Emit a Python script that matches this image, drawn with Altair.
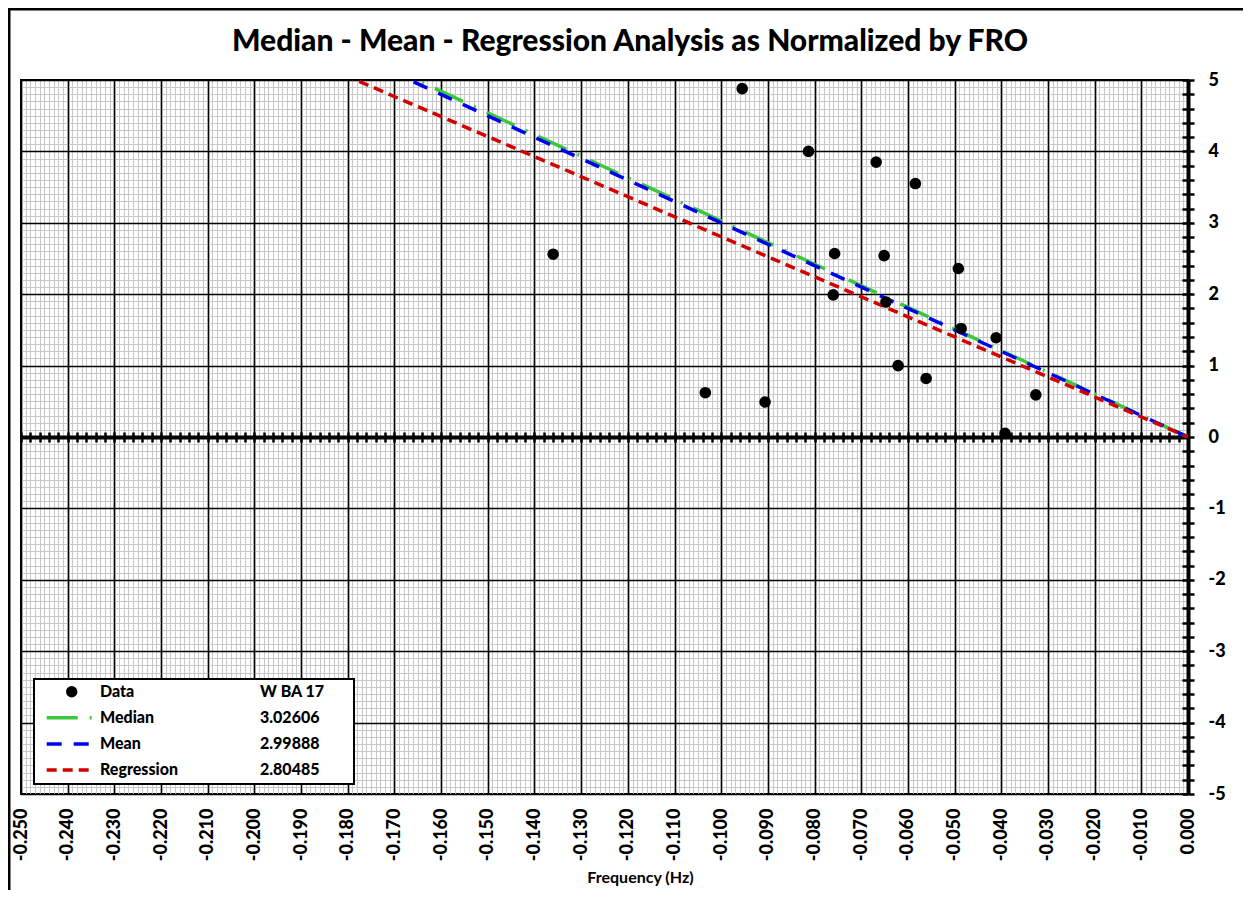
import altair as alt
import pandas as pd

# ---------------- data ----------------
freq = [-0.1360, -0.1034, -0.0955, -0.0906, -0.0813, -0.0760, -0.0757, -0.0668, -0.0651,
        -0.0647, -0.0621, -0.0584, -0.0561, -0.0492, -0.0486, -0.0411, -0.0392, -0.0326]
resp = [2.56, 0.62, 4.88, 0.49, 4.00, 1.99, 2.57, 3.85, 2.54,
        1.89, 1.00, 3.55, 0.82, 2.36, 1.52, 1.39, 0.05, 0.59]

series_names = ["Median", "Mean", "Regression"]
series_values = [3.02606, 2.99888, 2.80485]
series_colors = ["#3cc83c", "#0000f0", "#d40000"]
series_dash = [[31, 12, 2, 12], [15, 12], [10, 6]]

legend_labels = ["Data", "Median", "Mean", "Regression"]
legend_values = ["W BA 17", "3.02606", "2.99888", "2.80485"]

x_range = [-0.25, 0.0]
x_major = [-i / 100 for i in range(25, -1, -1)]
x_minor = [-k / 1000 for k in range(250) if k % 10 != 0]
x_zero_ticks = [-k / 500 for k in range(126)]
y_major = list(range(-5, 6))
y_minor = [k / 10 for k in range(-50, 51) if k % 10 != 0]
y_edge_ticks = [k / 5 for k in range(-25, 26)]

title_text = "Median - Mean - Regression Analysis as Normalized by FRO"
x_title = "Frequency (Hz)"

# ---------------- layout ----------------
W, H = 1167, 714
FONT = "Lato"
LBL_W = 900
PERIOD = W / 25  # pixel spacing of major vertical grid lines

pts = pd.DataFrame({"freq": freq, "resp": resp})
xs = alt.Scale(domain=x_range, nice=False, zero=False)
ys = alt.Scale(domain=[-5, 5], nice=False, zero=False)

blank = dict(labels=False, ticks=False, domain=False, title=None, zindex=0)


def axis_layer(xaxis, yaxis):
    return alt.Chart(pts).mark_point(opacity=0).encode(
        x=alt.X("freq:Q", scale=xs, axis=xaxis),
        y=alt.Y("resp:Q", scale=ys, axis=yaxis),
    )


minor = axis_layer(
    alt.Axis(orient="top", values=x_minor, grid=True, gridColor="#c8c8c8", gridWidth=1.1, **blank),
    alt.Axis(orient="left", values=y_minor, grid=True, gridColor="#c8c8c8", gridWidth=1.1,
             gridDash=[PERIOD - 2, 2], gridDashOffset=PERIOD - 1, **blank),
)

major = axis_layer(
    alt.Axis(orient="bottom", values=x_major, grid=True, gridColor="#000000", gridWidth=1.7,
             ticks=False, domain=False, labels=True, labelAngle=270,
             labelExpr="replace(format(datum.value, '.3f'), '\u2212', '-')",
             labelFont=FONT, labelFontSize=18, labelFontWeight=LBL_W, labelColor="#000000",
             labelPadding=14, labelFlush=False, labelOverlap=False,
             title=x_title, titleFont=FONT, titleFontSize=16, titleFontWeight="bold",
             titleColor="#000000", titleX=619, titleY=88, titleAlign="center",
             titleBaseline="alphabetic", zindex=0),
    alt.Axis(orient="right", values=y_major, grid=True, gridColor="#000000", gridWidth=1.7,
             ticks=False, domain=False, labels=True, labelAlign="left", labelBaseline="middle",
             labelExpr="replace(format(datum.value, 'd'), '\u2212', '-')",
             labelFont=FONT, labelFontSize=18, labelFontWeight=LBL_W, labelColor="#000000",
             labelPadding=20, labelFlush=False, labelOverlap=False, title=None, zindex=0),
)

zero_a = axis_layer(
    alt.Axis(orient="bottom", offset=-H / 2, values=x_zero_ticks, labels=False, grid=False,
             ticks=True, tickSize=5, tickWidth=2.5, tickColor="#000000",
             domain=True, domainWidth=4, domainColor="#000000", title=None, zindex=0),
    alt.Axis(orient="right", values=y_edge_ticks, labels=False, grid=False,
             ticks=True, tickSize=6, tickWidth=2.5, tickColor="#000000",
             domain=True, domainWidth=4, domainColor="#000000", title=None, zindex=0),
)

zero_b = axis_layer(
    alt.Axis(orient="top", offset=-H / 2, values=x_zero_ticks, labels=False, grid=False,
             ticks=True, tickSize=5, tickWidth=2.5, tickColor="#000000",
             domain=False, title=None, zindex=0),
    alt.Axis(orient="left", offset=-W, values=y_edge_ticks, labels=False, grid=False,
             ticks=True, tickSize=6, tickWidth=2.5, tickColor="#000000",
             domain=False, title=None, zindex=0),
)

# fitted lines through origin
line_layers = []
for name, v, c, d in zip(series_names, series_values, series_colors, series_dash):
    ldf = pd.DataFrame({"freq": x_range, "resp": [-10 * v * x for x in x_range], "s": name})
    line_layers.append(
        alt.Chart(ldf).mark_line(color=c, strokeWidth=3.5, strokeDash=d, clip=True).encode(
            x=alt.X("freq:Q", scale=xs, axis=None),
            y=alt.Y("resp:Q", scale=ys, axis=None),
        )
    )

points = alt.Chart(pts).mark_circle(color="#000000", size=135, opacity=1).encode(
    x=alt.X("freq:Q", scale=xs, axis=None),
    y=alt.Y("resp:Q", scale=ys, axis=None),
)

# ---------------- custom legend ----------------
one = alt.Data(values=[{"k": 1}])
leg = [alt.Chart(one).mark_rect(fill="#ffffff", stroke="#000000", strokeWidth=2).encode(
    x=alt.value(13), x2=alt.value(333), y=alt.value(599), y2=alt.value(704))]
row_y = [611.7, 637.7, 664, 690]
leg.append(alt.Chart(one).mark_circle(color="#000000", size=130, opacity=1).encode(
    x=alt.value(50.7), y=alt.value(row_y[0])))
for i, (c, d) in enumerate(zip(series_colors, series_dash)):
    leg.append(alt.Chart(one).mark_rule(color=c, strokeWidth=3.5, strokeDash=d).encode(
        x=alt.value(25.7), x2=alt.value(71), y=alt.value(row_y[i + 1])))
for i, (lab, val) in enumerate(zip(legend_labels, legend_values)):
    leg.append(alt.Chart(one).mark_text(text=lab, font=FONT, fontSize=16, fontWeight=LBL_W,
                                        color="#000000", align="left", baseline="middle").encode(
        x=alt.value(79), y=alt.value(row_y[i])))
    leg.append(alt.Chart(one).mark_text(text=val, font=FONT, fontSize=16, fontWeight=LBL_W,
                                        color="#000000", align="left", baseline="middle").encode(
        x=alt.value(239), y=alt.value(row_y[i])))

# chart title
title_mark = alt.Chart(one).mark_text(text=title_text, font=FONT, fontSize=30, fontWeight=LBL_W,
                                      color="#000000", align="center", baseline="alphabetic").encode(
    x=alt.value(609), y=alt.value(-29))

# outer frame of the chart object
frame = [
    alt.Chart(one).mark_rule(color="#000000", strokeWidth=3).encode(
        x=alt.value(-12), y=alt.value(-73), y2=alt.value(820)),
    alt.Chart(one).mark_rule(color="#000000", strokeWidth=3).encode(
        x=alt.value(-14), x2=alt.value(1240), y=alt.value(-71)),
]

chart = alt.layer(
    minor, major, zero_a, zero_b, *line_layers, points, *leg, title_mark, *frame
).resolve_axis(x="independent", y="independent").properties(
    width=W, height=H,
    autosize=alt.AutoSizeParams(type="none"),
    padding={"left": 13, "top": 72, "right": 55, "bottom": 96},
    background="#ffffff",
).configure_view(stroke="#000000", strokeWidth=2)

chart.save("out.html", embed_options={"renderer": "svg", "actions": False})
